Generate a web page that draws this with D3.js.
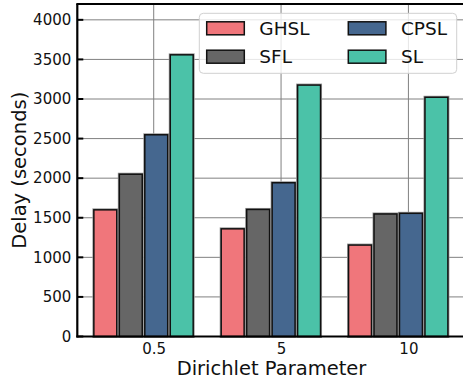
<!DOCTYPE html>
<html><head><meta charset="utf-8">
<script src="https://cdn.jsdelivr.net/npm/d3@7"></script>
<style>body{margin:0;background:#fff;} text{font-family:"DejaVu Sans",sans-serif;}</style>
</head><body>
<svg id="c" width="463" height="381"></svg>
<script>
const categories = ["0.5", "5", "10"];
const seriesNames = ["GHSL", "SFL", "CPSL", "SL"];
const GHSL = [1600, 1360, 1155];
const SFL = [2050, 1605, 1548];
const CPSL = [2548, 1942, 1556];
const SL = [3558, 3176, 3022];
const yTicks = [0, 500, 1000, 1500, 2000, 2500, 3000, 3500, 4000];
const colors = ["#F0767B", "#666666", "#45678F", "#4BC2A8"];
const series = [GHSL, SFL, CPSL, SL];
const offsets = [-0.38, -0.18, 0.02, 0.22];
const barW = 0.18;

const svg = d3.select("#c");
const L = 77.3, B = 336.5, T = 4;
const x = d3.scaleLinear().domain([-0.6, 2.6]).range([L, L + 3.2 * 127.35]);
const y = d3.scaleLinear().domain([0, 4200]).range([B, T]);

// gridlines
const g = svg.append("g");
g.selectAll("line.h").data(yTicks).enter().append("line")
  .attr("x1", L).attr("x2", 463).attr("y1", d => y(d)).attr("y2", d => y(d))
  .attr("stroke", "#808080").attr("stroke-width", 1);
g.selectAll("line.v").data(categories).enter().append("line")
  .attr("y1", T).attr("y2", B).attr("x1", (d, i) => x(i)).attr("x2", (d, i) => x(i))
  .attr("stroke", "#808080").attr("stroke-width", 1);

// bars
series.forEach((vals, s) => {
  const gg = svg.append("g");
  gg.selectAll("rect.halo").data(vals).enter().append("rect")
    .attr("x", (d, i) => x(i + offsets[s] - barW / 2))
    .attr("width", x(barW) - x(0))
    .attr("y", d => y(d)).attr("height", d => y(0) - y(d))
    .attr("fill", "none").attr("stroke", "#999").attr("stroke-width", 3);
  gg.selectAll("rect.bar").data(vals).enter().append("rect")
    .attr("x", (d, i) => x(i + offsets[s] - barW / 2))
    .attr("width", x(barW) - x(0))
    .attr("y", d => y(d)).attr("height", d => y(0) - y(d))
    .attr("fill", colors[s]).attr("stroke", "#111").attr("stroke-width", 1.5);
});

// y axis
const yAxis = d3.axisLeft(y).tickValues(yTicks).tickSize(0).tickPadding(6).tickFormat(d3.format("d"));
const ya = svg.append("g").attr("transform", `translate(${L},0)`).call(yAxis);
ya.select(".domain").remove();
ya.selectAll("text").attr("font-size", 15).attr("fill", "#111").attr("font-family", "DejaVu Sans");
svg.selectAll("line.yt").data(yTicks).enter().append("line")
  .attr("x1", L).attr("x2", L + 6).attr("y1", d => y(d)).attr("y2", d => y(d))
  .attr("stroke", "#000").attr("stroke-width", 2);

// x axis
const xAxis = d3.axisBottom(x).tickValues([0, 1, 2]).tickSize(0).tickPadding(7).tickFormat(i => categories[i]);
const xa = svg.append("g").attr("transform", `translate(0,${B})`).call(xAxis);
xa.select(".domain").remove();
xa.selectAll("text").attr("font-size", 15).attr("fill", "#111").attr("font-family", "DejaVu Sans");

// spines
svg.append("line").attr("x1", L).attr("x2", L).attr("y1", T).attr("y2", B + 1).attr("stroke", "#000").attr("stroke-width", 2.2);
svg.append("line").attr("x1", L - 1).attr("x2", 463).attr("y1", B).attr("y2", B).attr("stroke", "#000").attr("stroke-width", 2.2);
svg.append("line").attr("x1", L - 1).attr("x2", 463).attr("y1", T).attr("y2", T).attr("stroke", "#000").attr("stroke-width", 2.2);

// axis labels
svg.append("text").attr("x", 271.5).attr("y", 375).attr("text-anchor", "middle")
  .attr("font-size", 19.5).attr("fill", "#111").text("Dirichlet Parameter");
svg.append("text").attr("transform", `translate(26,${(T + B) / 2}) rotate(-90)`).attr("text-anchor", "middle")
  .attr("font-size", 19.5).attr("fill", "#111").text("Delay (seconds)");

// legend
const lg = svg.append("g");
lg.append("rect").attr("x", 199.3).attr("y", 13.3).attr("width", 257.4).attr("height", 60).attr("rx", 4)
  .attr("fill", "#fff").attr("fill-opacity", 0.8).attr("stroke", "#d0d0d0").attr("stroke-width", 1);
const legPos = [[206.7, 28.3], [206.7, 56.7], [348.3, 28.3], [348.3, 56.7]];
seriesNames.forEach((n, i) => {
  const [lx, ly] = legPos[i];
  lg.append("rect").attr("x", lx).attr("y", ly - 6.5).attr("width", 37.6).attr("height", 13)
    .attr("fill", colors[i]).attr("stroke", "#111").attr("stroke-width", 1.5);
  lg.append("text").attr("x", lx + 52.6).attr("y", ly).attr("dy", "0.36em")
    .attr("font-size", 18.5).attr("fill", "#111").text(n);
});
</script>
</body></html>
